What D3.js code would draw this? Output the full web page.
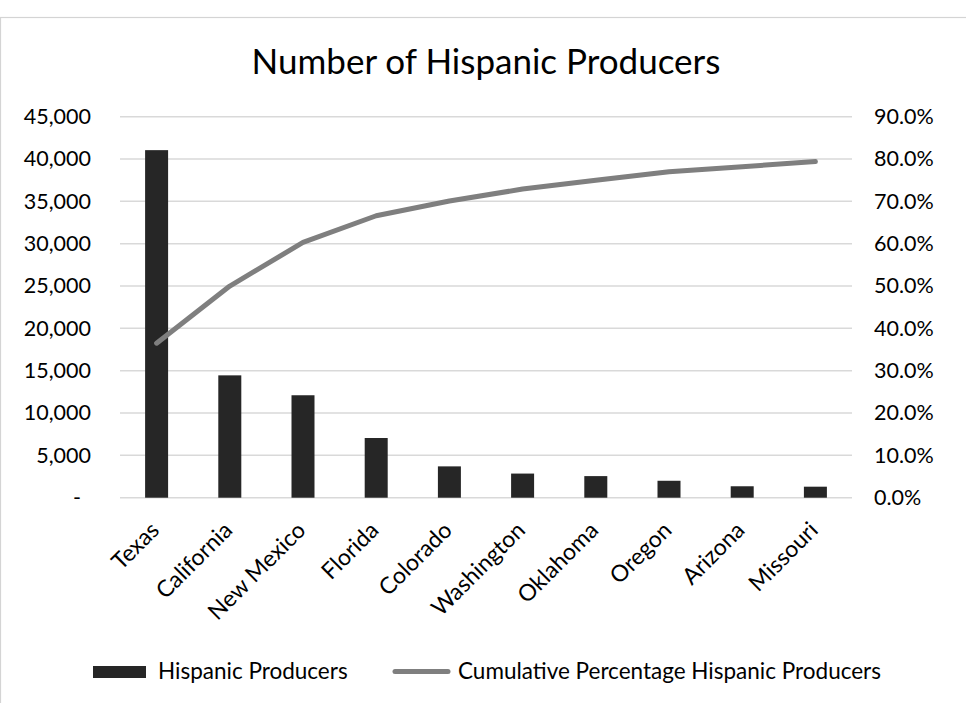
<!DOCTYPE html>
<html>
<head>
<meta charset="utf-8">
<script src="https://cdn.jsdelivr.net/npm/d3@7"></script>
<style>
  body { margin: 0; background: #fff; }
  text { font-family: Lato, "Open Sans", sans-serif; fill: #000; }
</style>
</head>
<body>
<svg id="chart" width="966" height="703"></svg>
<script>
// data
const states = ['Texas', 'California', 'New Mexico', 'Florida', 'Colorado',
                'Washington', 'Oklahoma', 'Oregon', 'Arizona', 'Missouri'];
const producers = [41050, 14450, 12100, 7050, 3700, 2850, 2550, 2000, 1350, 1300];
const cumulativePct = [36.5, 50.0, 60.3, 66.6, 70.1, 72.9, 75.0, 77.0, 78.2, 79.4];
const leftTicks = [0, 5000, 10000, 15000, 20000, 25000, 30000, 35000, 40000, 45000];
const rightTicks = [0, 10, 20, 30, 40, 50, 60, 70, 80, 90];

const svg = d3.select('#chart');

// chart border (right and bottom run off the picture)
svg.append('rect')
  .attr('x', 0.5).attr('y', 17.5)
  .attr('width', 1000).attr('height', 1000)
  .attr('fill', 'none').attr('stroke', '#d4d4d4').attr('stroke-width', 1.2);

const plot = { left: 120, right: 852, top: 116.7, bottom: 497.7 };

var scale =
{
    x: d3.scaleBand().domain(states).range([plot.left, plot.right]),
    bars: d3.scaleLinear().domain([0, 45000]).range([plot.bottom, plot.top]),
    pct: d3.scaleLinear().domain([0, 90]).range([plot.bottom, plot.top])
};

// title
svg.append('text')
  .attr('x', (plot.left + plot.right) / 2).attr('y', 74)
  .attr('text-anchor', 'middle')
  .style('font-size', '35px')
  .text('Number of Hispanic Producers');

// gridlines
svg.append('g').selectAll('line')
  .data(leftTicks)
  .join('line')
  .attr('x1', plot.left).attr('x2', plot.right)
  .attr('y1', d => scale.bars(d)).attr('y2', d => scale.bars(d))
  .attr('stroke', '#d9d9d9').attr('stroke-width', 1.5);

// left axis
const leftAxis = d3.axisLeft(scale.bars)
  .tickValues(leftTicks)
  .tickSize(0).tickPadding(0)
  .tickFormat(d => d === 0 ? '-' : d3.format(',')(d));

svg.append('g')
  .attr('transform', 'translate(91,0)')
  .call(leftAxis)
  .call(g => g.select('.domain').remove())
  .call(g => g.selectAll('text')
    .attr('dx', d => d === 0 ? '-10' : '0')
    .style('font-size', '21.5px').style('font-family', 'Lato, sans-serif').attr('fill', '#000'));

// right axis
const rightAxis = d3.axisRight(scale.pct)
  .tickValues(rightTicks)
  .tickSize(0).tickPadding(0)
  .tickFormat(d => d.toFixed(1) + '%');

svg.append('g')
  .attr('transform', 'translate(874,0)')
  .call(rightAxis)
  .call(g => g.select('.domain').remove())
  .call(g => g.selectAll('text')
    .style('font-size', '21.5px').style('font-family', 'Lato, sans-serif').attr('fill', '#000'));

// bars
const barWidth = 23;
svg.append('g').selectAll('rect')
  .data(producers)
  .join('rect')
  .attr('x', (d, i) => scale.x(states[i]) + scale.x.bandwidth() / 2 - barWidth / 2)
  .attr('y', d => scale.bars(d))
  .attr('width', barWidth)
  .attr('height', d => scale.bars(0) - scale.bars(d))
  .attr('fill', '#262626');

// category labels
svg.append('g').selectAll('text')
  .data(states)
  .join('text')
  .attr('transform', d => `translate(${scale.x(d) + scale.x.bandwidth() / 2 + 4},${plot.bottom + 34}) rotate(-45)`)
  .attr('text-anchor', 'end')
  .style('font-size', '23px')
  .text(d => d);

// cumulative line
var lineGenerator = d3.line()
  .x((d, i) => scale.x(states[i]) + scale.x.bandwidth() / 2)
  .y(d => scale.pct(d));

svg.append('path')
  .attr('d', lineGenerator(cumulativePct))
  .attr('fill', 'none')
  .attr('stroke', '#7f7f7f')
  .attr('stroke-width', 5)
  .attr('stroke-linecap', 'round')
  .attr('stroke-linejoin', 'round');

// legend
const legend = svg.append('g');
legend.append('rect')
  .attr('x', 93).attr('y', 666).attr('width', 53).attr('height', 12)
  .attr('fill', '#262626');
legend.append('text')
  .attr('x', 158).attr('y', 671).attr('dy', '0.35em')
  .style('font-size', '22.5px')
  .text('Hispanic Producers');
legend.append('line')
  .attr('x1', 395).attr('x2', 448).attr('y1', 671.5).attr('y2', 671.5)
  .attr('stroke', '#7f7f7f').attr('stroke-width', 5).attr('stroke-linecap', 'round');
legend.append('text')
  .attr('x', 458).attr('y', 671).attr('dy', '0.35em')
  .style('font-size', '22.5px')
  .text('Cumulative Percentage Hispanic Producers');
</script>
</body>
</html>
